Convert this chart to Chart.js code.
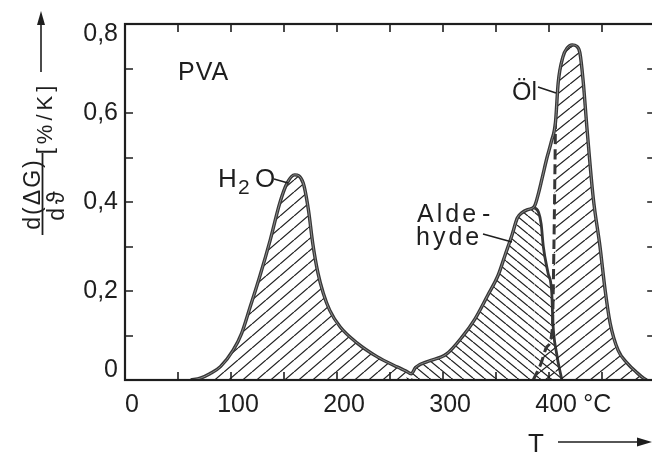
<!DOCTYPE html>
<html>
<head>
<meta charset="utf-8">
<script src="https://cdn.jsdelivr.net/npm/chart.js@4.4.1/dist/chart.umd.min.js"></script>
<style>
  html, body { margin: 0; padding: 0; background: #fff; }
  #c { display: block; }
</style>
</head>
<body>
<canvas id="c" width="652" height="452"></canvas>
<script>
// Thermogravimetrie von PVA: Massenverlustrate d(ΔG)/dϑ in %/K über der Temperatur T in °C

// H2O-Abspaltung
const h2oT = [62, 71, 80, 90, 102, 110, 118, 127, 137, 146, 153, 160, 168, 173, 177, 182, 187, 193, 203, 219, 238, 257, 265, 272];
const h2oV = [0, 0.004, 0.014, 0.03, 0.067, 0.105, 0.164, 0.232, 0.315, 0.398, 0.443, 0.461, 0.443, 0.382, 0.308, 0.24, 0.195, 0.157, 0.119, 0.083, 0.052, 0.029, 0.02, 0];

// Aldehyde
const aldT = [262, 268, 274, 286, 303, 318, 330, 342, 352, 358.5, 365, 370, 374.5, 380, 386, 390, 392.5, 394.5, 399, 402.5, 403.5, 407, 412];
const aldV = [0, 0.01, 0.028, 0.042, 0.058, 0.097, 0.137, 0.19, 0.236, 0.281, 0.326, 0.364, 0.376, 0.383, 0.386, 0.377, 0.35, 0.3, 0.24, 0.195, 0.13, 0.06, 0];

// Öl
const oelT = [385, 392, 398, 403, 404.5, 405.5, 406, 408.5, 413, 417, 421.7, 426, 429, 432, 435.8, 441.5, 448, 452.8, 457.5, 465, 473.6, 483, 489, 492];
const oelV = [0, 0.035, 0.075, 0.115, 0.3, 0.48, 0.58, 0.667, 0.726, 0.746, 0.753, 0.75, 0.735, 0.674, 0.562, 0.411, 0.299, 0.202, 0.128, 0.067, 0.038, 0.016, 0.004, 0];

// Gesamtkurve
const sumT = [62, 71, 80, 90, 102, 110, 118, 127, 137, 146, 153, 160, 168, 173, 177, 182, 187, 193, 203, 219, 238, 257, 265, 270, 274, 286, 303, 318, 330, 342, 352, 358.5, 365, 370, 374.5, 380, 386, 390, 394, 398, 402, 406, 408.5, 413, 417, 421.7, 426, 429, 432, 435.8, 441.5, 448, 452.8, 457.5, 465, 473.6, 483, 489, 492];
const sumV = [0, 0.004, 0.014, 0.03, 0.067, 0.105, 0.164, 0.232, 0.315, 0.398, 0.443, 0.461, 0.443, 0.382, 0.308, 0.24, 0.195, 0.157, 0.119, 0.083, 0.052, 0.029, 0.02, 0.014, 0.028, 0.042, 0.058, 0.097, 0.137, 0.19, 0.236, 0.281, 0.326, 0.364, 0.376, 0.383, 0.39, 0.42, 0.46, 0.5, 0.535, 0.58, 0.667, 0.726, 0.746, 0.753, 0.75, 0.735, 0.674, 0.562, 0.411, 0.299, 0.202, 0.128, 0.067, 0.038, 0.016, 0.004, 0];

// Achsen (der Rahmen reicht bis 500 °C, sichtbar ist der Bereich bis knapp darunter)
const xMin = 0, xFrame = 500, xVisible = 497, xStep = 50;
const yMin = 0, yMax = 0.8, yStep = 0.1;
const xLabelled = [0, 100, 200, 300, 400];
const yLabelled = [0, 0.2, 0.4, 0.6, 0.8];

const INK = '#1e1e1e';
const LINE = '#363636';
const CORE = '#8c8c8c';
const FONT = '"Liberation Sans", Arial, sans-serif';
const CLEAR = 'rgba(0,0,0,0)';

const canvas = document.getElementById('c');
const ctx = canvas.getContext('2d');

function pts(xs, ys) { return xs.map((x, i) => ({ x, y: ys[i] })); }

// Schraffur: w = horizontaler Linienabstand, h = Höhe der Kachel, dir > 0 steigend "/", dir < 0 fallend "\"
function hatch(w, h, dir) {
  const c = document.createElement('canvas');
  c.width = w; c.height = h;
  const g = c.getContext('2d');
  g.strokeStyle = '#222';
  g.lineWidth = 1.25;
  g.beginPath();
  for (const dx of [-w, 0, w]) {
    if (dir > 0) { g.moveTo(dx, h); g.lineTo(dx + w, 0); }
    else { g.moveTo(dx, 0); g.lineTo(dx + w, h); }
  }
  g.stroke();
  return ctx.createPattern(c, 'repeat');
}

function setSpacing(c, px) { if ('letterSpacing' in c) c.letterSpacing = px + 'px'; }

// Rahmen mit nach innen zeigenden Teilstrichen
const frameTicks = {
  id: 'frameTicks',
  afterDatasetsDraw(chart) {
    const { ctx: c, chartArea: a, scales: { x, y } } = chart;
    const right = x.getPixelForValue(xFrame);
    c.save();
    c.strokeStyle = INK;
    c.lineWidth = 2.2;
    c.strokeRect(a.left, a.top, right - a.left, a.bottom - a.top);
    c.lineWidth = 1.6;
    c.beginPath();
    for (let v = xMin; v <= xFrame; v += xStep) {
      const p = Math.round(x.getPixelForValue(v));
      c.moveTo(p, a.bottom); c.lineTo(p, a.bottom - 8);
      c.moveTo(p, a.top); c.lineTo(p, a.top + 8);
    }
    y.ticks.forEach(t => {
      const p = Math.round(y.getPixelForValue(t.value));
      c.moveTo(a.left, p); c.lineTo(a.left + 8, p);
      c.moveTo(right, p); c.lineTo(right - 8, p);
    });
    c.stroke();
    c.restore();
  }
};

// Beschriftungen, Achsentitel und Pfeile
const labels = {
  id: 'labels',
  afterDraw(chart) {
    const { ctx: c, scales: { x } } = chart;
    c.save();
    c.fillStyle = INK;
    c.strokeStyle = INK;
    c.textBaseline = 'alphabetic';
    c.textAlign = 'left';

    // Einheit hinter der Marke 400
    c.font = '25px ' + FONT;
    c.textBaseline = 'middle';
    c.fillText('°C', x.getPixelForValue(400) + 34, 405);
    c.textBaseline = 'alphabetic';

    // Probenbezeichnung
    setSpacing(c, 1);
    c.fillText('PVA', 178, 80);

    // H2O
    setSpacing(c, 0);
    c.font = '26px ' + FONT;
    c.fillText('H', 218, 187);
    c.fillText('O', 255, 187);
    c.font = '21px ' + FONT;
    c.fillText('2', 238, 194);

    // Öl
    c.font = '25px ' + FONT;
    c.fillText('Öl', 512, 100);

    // Aldehyde
    setSpacing(c, 3);
    c.fillText('Alde', 417, 222);
    c.fillText('hyde', 416, 245);
    setSpacing(c, 0);
    c.fillText('-', 482, 222);

    // Hinweislinien
    c.lineWidth = 1.5;
    c.beginPath();
    c.moveTo(274, 179); c.lineTo(288, 183);
    c.moveTo(538, 87); c.lineTo(556, 93);
    c.moveTo(483, 234); c.lineTo(512, 242);
    c.stroke();

    // Abszissentitel mit Pfeil
    c.font = '26px ' + FONT;
    c.fillText('T', 528, 452);
    c.lineWidth = 1.6;
    c.beginPath(); c.moveTo(558, 442); c.lineTo(642, 442); c.stroke();
    c.beginPath(); c.moveTo(652, 442); c.lineTo(637, 437.5); c.lineTo(637, 446.5); c.closePath(); c.fill();

    // Ordinatentitel: Bruch d(ΔG)/dϑ, Einheit und Pfeil
    c.save();
    c.translate(40, 194);
    c.rotate(-Math.PI / 2);
    c.textAlign = 'center';
    c.font = '23px ' + FONT;
    setSpacing(c, 2);
    c.fillText('d(ΔG)', 0, 0);
    c.lineWidth = 1.8;
    c.beginPath(); c.moveTo(-41, 2.5); c.lineTo(41, 2.5); c.stroke();
    setSpacing(c, 4);
    c.fillText('dϑ', -10, 24);
    c.restore();

    c.save();
    c.translate(52, 118);
    c.rotate(-Math.PI / 2);
    c.textAlign = 'center';
    c.font = '22px ' + FONT;
    setSpacing(c, 4);
    c.fillText('[%/K]', 0, 0);
    c.restore();

    setSpacing(c, 0);
    c.lineWidth = 1.6;
    c.beginPath(); c.moveTo(41, 72); c.lineTo(41, 22); c.stroke();
    c.beginPath(); c.moveTo(41, 11); c.lineTo(37, 25); c.lineTo(45, 25); c.closePath(); c.fill();

    c.restore();
  }
};

const common = { pointRadius: 0, cubicInterpolationMode: 'monotone', fill: 'origin' };
const curve = { pointRadius: 0, cubicInterpolationMode: 'monotone', fill: false };

new Chart(ctx, {
  type: 'line',
  data: {
    datasets: [
      {
        // heller Kern des Federstrichs
        label: 'Summe (Kern)',
        data: pts(sumT, sumV),
        ...curve,
        borderColor: CORE, borderWidth: 1
      },
      {
        label: 'Summe',
        data: pts(sumT, sumV),
        ...curve,
        borderColor: LINE, borderWidth: 3.4
      },
      {
        label: 'Öl',
        data: pts(oelT, oelV),
        ...common,
        backgroundColor: hatch(15, 12, 1),
        borderColor: LINE, borderWidth: 3,
        segment: {
          borderColor: s => s.p1.parsed.x <= 406 ? LINE : CLEAR,
          borderDash: s => s.p1.parsed.x <= 406 ? [10, 5] : undefined
        }
      },
      {
        label: 'Aldehyde',
        data: pts(aldT, aldV),
        ...common,
        backgroundColor: hatch(11, 9, -1),
        borderColor: LINE, borderWidth: 2.8,
        segment: { borderColor: s => s.p0.parsed.x >= 386 ? LINE : CLEAR }
      },
      {
        label: 'H2O',
        data: pts(h2oT, h2oV),
        ...common,
        backgroundColor: hatch(14, 12, 1),
        borderColor: CLEAR, borderWidth: 0
      }
    ]
  },
  options: {
    responsive: false,
    animation: false,
    events: [],
    layout: { padding: { top: 24, right: 0, left: 0, bottom: 0 } },
    plugins: { legend: { display: false }, tooltip: { enabled: false } },
    scales: {
      x: {
        type: 'linear', min: xMin, max: xVisible,
        grid: { display: false, drawTicks: true, tickLength: 10 },
        border: { display: false },
        ticks: {
          stepSize: xStep, autoSkip: false, maxRotation: 0, padding: 0, labelOffset: 7,
          color: INK, font: { family: FONT, size: 25 },
          callback: v => xLabelled.includes(Math.round(v)) && Math.abs(v - Math.round(v)) < 1e-6 ? String(Math.round(v)) : ''
        },
        afterFit: s => { s.height = 72; }
      },
      y: {
        min: yMin, max: yMax,
        grid: { display: false, drawTicks: true, tickLength: 7 },
        border: { display: false },
        ticks: {
          stepSize: yStep, autoSkip: false, padding: 0,
          color: INK, font: { family: FONT, size: 25, lineHeight: 0.8 },
          callback: v => {
            const k = Math.round(v * 10);
            if (!yLabelled.some(l => Math.round(l * 10) === k)) return '';
            const s = (k / 10).toString().replace('.', ',');
            if (k === 0) return [s, ''];
            if (k === 8) return ['', s];
            return s;
          }
        },
        afterFit: s => { s.width = 125; }
      }
    }
  },
  plugins: [frameTicks, labels]
});
</script>
</body>
</html>
